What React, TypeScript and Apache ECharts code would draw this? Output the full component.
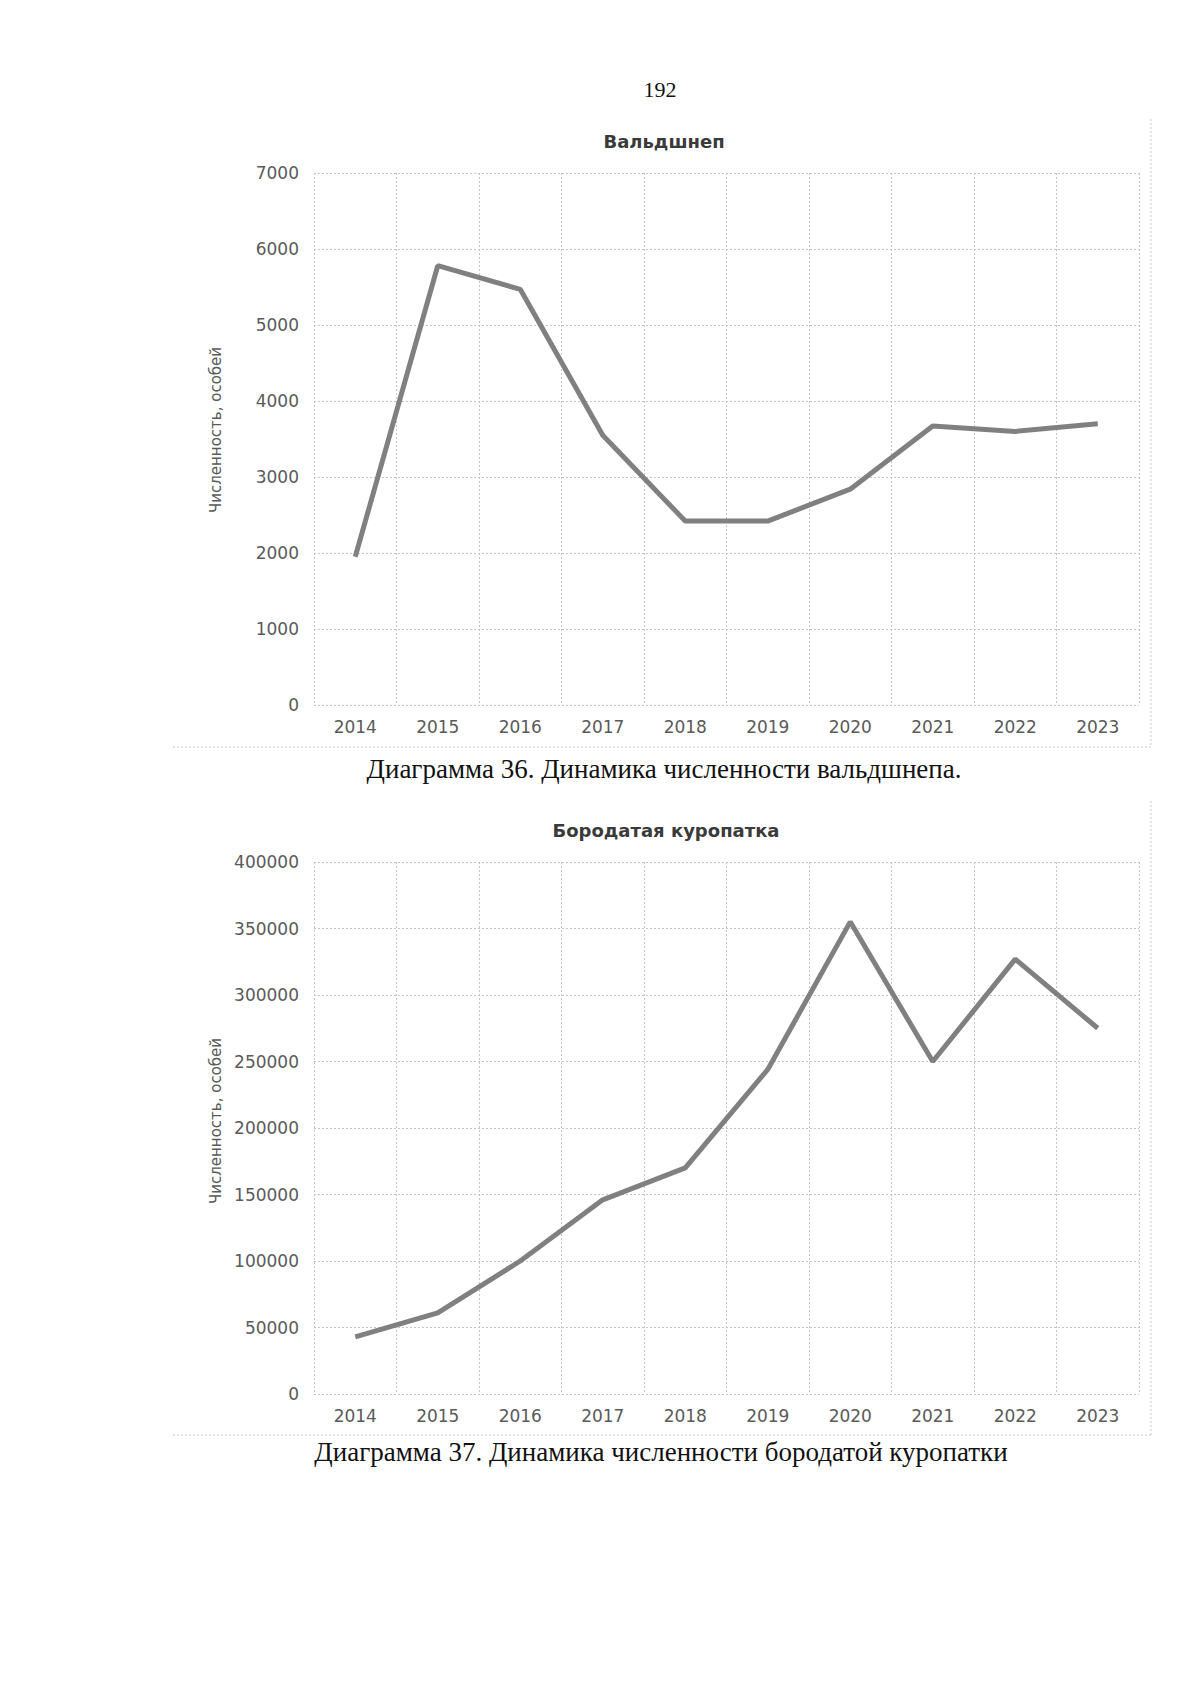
import React, { useEffect, useRef } from "react";
import * as echarts from "echarts";

const years = ["2014", "2015", "2016", "2017", "2018", "2019", "2020", "2021", "2022", "2023"];
const woodcock = [1950, 5780, 5470, 3550, 2420, 2420, 2840, 3670, 3600, 3700];
const partridge = [43000, 61000, 100000, 146000, 170000, 244000, 355000, 250000, 327000, 275000];

const pageNumber = "192";
const title1 = "Вальдшнеп";
const title2 = "Бородатая куропатка";
const caption1 = "Диаграмма 36. Динамика численности вальдшнепа.";
const caption2 = "Диаграмма 37. Динамика численности бородатой куропатки";
const yName = "Численность, особей";

const GRID_LEFT = 314;
const GRID_W = 825;
const GRID_H = 532;
const TOP1 = 173;
const TOP2 = 862;

const labelFont = { fontFamily: "DejaVu Sans", fontSize: 17, color: "#5a5a5a" };
const gridLine = { show: true, lineStyle: { color: "#c4c4c4", width: 1, type: [2, 2] as any } };

function xAxis(gridIndex: number) {
  return {
    type: "category",
    gridIndex,
    data: years,
    boundaryGap: true,
    axisLine: { show: false },
    axisTick: { show: false },
    axisLabel: { ...labelFont, margin: 13 },
    splitLine: gridLine,
  };
}

function yAxis(gridIndex: number, max: number, interval: number) {
  return {
    type: "value",
    gridIndex,
    min: 0,
    max,
    interval,
    axisLine: { show: false },
    axisTick: { show: false },
    axisLabel: { ...labelFont, margin: 15, formatter: (v: number) => String(v) },
    splitLine: gridLine,
  };
}

const borderStyle = { stroke: "#c8c8c8", lineWidth: 1, lineDash: [2, 2] };

function nameText(y: number) {
  return {
    type: "text",
    x: 216,
    y,
    rotation: Math.PI / 2,
    style: {
      text: yName,
      font: "15px 'DejaVu Sans'",
      fill: "#5a5a5a",
      textAlign: "center",
      textVerticalAlign: "middle",
    },
  };
}

export default function App() {
  const ref = useRef<HTMLDivElement>(null);
  useEffect(() => {
    if (!ref.current) return;
    const chart = echarts.init(ref.current, undefined, { renderer: "svg" });
    chart.setOption({
      animation: false,
      backgroundColor: "#ffffff",
      grid: [
        { left: GRID_LEFT, top: TOP1, width: GRID_W, height: GRID_H },
        { left: GRID_LEFT, top: TOP2, width: GRID_W, height: GRID_H },
      ],
      xAxis: [xAxis(0), xAxis(1)],
      yAxis: [yAxis(0, 7000, 1000), yAxis(1, 400000, 50000)],
      series: [
        {
          type: "line",
          xAxisIndex: 0,
          yAxisIndex: 0,
          data: woodcock,
          showSymbol: false,
          symbol: "none",
          lineStyle: { color: "#808080", width: 5 },
        },
        {
          type: "line",
          xAxisIndex: 1,
          yAxisIndex: 1,
          data: partridge,
          showSymbol: false,
          symbol: "none",
          lineStyle: { color: "#808080", width: 5 },
        },
      ],
      graphic: [
        {
          type: "text",
          x: 660,
          y: 89,
          style: { text: pageNumber, font: "22px 'Liberation Serif'", fill: "#111", textAlign: "center", textVerticalAlign: "middle" },
        },
        {
          type: "text",
          x: 664,
          y: 141,
          style: { text: title1, font: "bold 18px 'DejaVu Sans'", fill: "#3a3a3a", textAlign: "center", textVerticalAlign: "middle" },
        },
        {
          type: "text",
          x: 666,
          y: 830,
          style: { text: title2, font: "bold 18px 'DejaVu Sans'", fill: "#3a3a3a", textAlign: "center", textVerticalAlign: "middle" },
        },
        {
          type: "text",
          x: 664,
          y: 769,
          style: { text: caption1, font: "27px 'Liberation Serif'", fill: "#111", textAlign: "center", textVerticalAlign: "middle" },
        },
        {
          type: "text",
          x: 661,
          y: 1452,
          style: { text: caption2, font: "27px 'Liberation Serif'", fill: "#111", textAlign: "center", textVerticalAlign: "middle" },
        },
        nameText(430),
        nameText(1121),
        { type: "line", shape: { x1: 1151, y1: 119, x2: 1151, y2: 747 }, style: borderStyle },
        { type: "line", shape: { x1: 173, y1: 747, x2: 1151, y2: 747 }, style: borderStyle },
        { type: "line", shape: { x1: 1151, y1: 801, x2: 1151, y2: 1435 }, style: borderStyle },
        { type: "line", shape: { x1: 173, y1: 1435, x2: 1151, y2: 1435 }, style: borderStyle },
      ],
    });
    return () => chart.dispose();
  }, []);
  return (
    <div
      ref={ref}
      style={{ position: "absolute", left: 0, top: 0, width: 1200, height: 1698, background: "#fff" }}
    />
  );
}
